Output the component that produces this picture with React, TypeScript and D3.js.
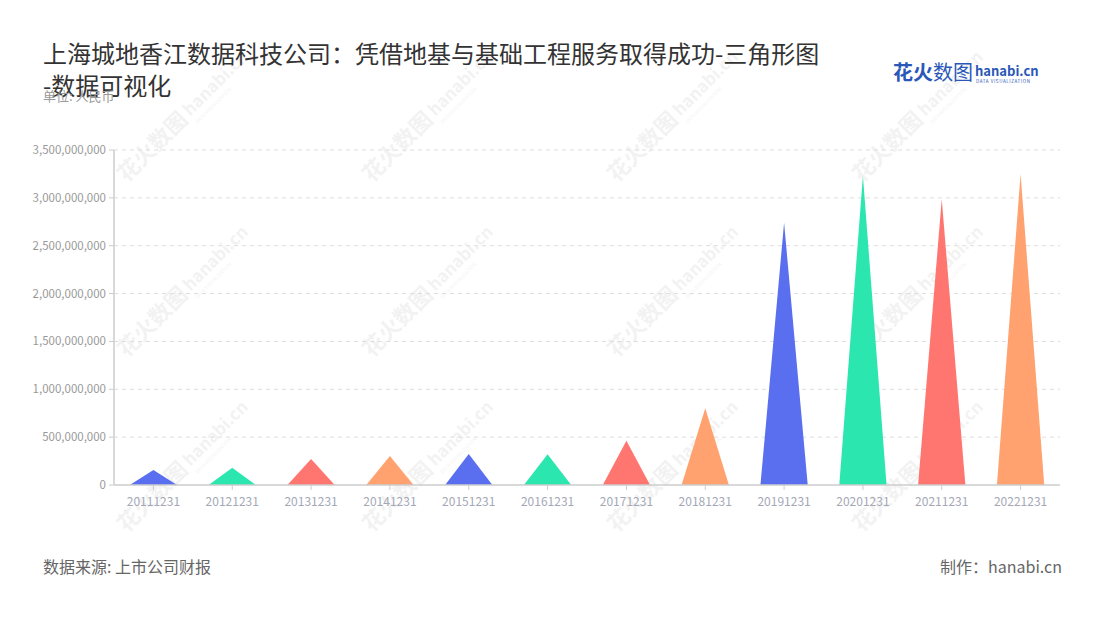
import React from "react";
import * as d3 from "d3";

const categories = ["20111231","20121231","20131231","20141231","20151231","20161231","20171231","20181231","20191231","20201231","20211231","20221231"];
const values = [157000000,181000000,272000000,303000000,324000000,320000000,463000000,801000000,2740000000,3230000000,2985000000,3250000000];
const yTicks = [0,500000000,1000000000,1500000000,2000000000,2500000000,3000000000,3500000000];
const palette = ["#596FEF","#2CE6B0","#FF7570","#FFA26F"];

const W = 1100, H = 620;
const left = 114, right = 1060, top = 150, bottom = 485;
const FONT = "'Noto Sans CJK SC', 'Noto Sans', sans-serif";

export default function App() {
  const x = d3.scaleBand<string>().domain(categories).range([left, right]);
  const y = d3.scaleLinear().domain([0, 3500000000]).range([bottom, top]);
  const fmt = d3.format(",");
  const bw = x.bandwidth() * 0.6;

  const wmCols = [155, 400, 645, 890];
  const wmRows = [155, 330, 505];

  return (
    <svg width={W} height={H} style={{ position: "absolute", left: 0, top: 0, fontFamily: FONT }}>
      <rect width={W} height={H} fill="#fff" />
      {/* watermarks */}
      {wmRows.map((ry, ri) =>
        wmCols.map((cx, ci) => (
          <g key={`wm${ri}${ci}`} transform={`translate(${cx},${ry}) rotate(-45)`} opacity={0.06}>
            <text x={-40} y={0} fontSize={22} fontWeight={700} fill="#333">花火数图</text>
            <text x={52} y={-2} fontSize={17} fontWeight={700} fill="#333">hanabi.cn</text>
            <text x={52} y={8} fontSize={5} fill="#333">DATA VISUALIZATION</text>
          </g>
        ))
      )}
      {/* title */}
      <text x={43} y={63} fontSize={24} fill="#333">上海城地香江数据科技公司：凭借地基与基础工程服务取得成功-三角形图</text>
      <text x={43} y={95} fontSize={24} fill="#333">-数据可视化</text>
      <text x={43} y={101} fontSize={13} fill="#999">单位: 人民币</text>
      {/* logo */}
      <text x={893} y={80} fontSize={20} fontWeight={700} fill="#2A57B8">花火</text>
      <text x={933} y={80} fontSize={20} fill="#2A57B8">数图</text>
      <text x={975} y={76} fontSize={13} fontWeight={700} fill="#2A57B8">hanabi.cn</text>
      <text x={976} y={83} fontSize={4.5} fill="#2A57B8" letterSpacing={0.6}>DATA VISUALIZATION</text>
      {/* grid */}
      {yTicks.map((t) => (
        <g key={t}>
          {t > 0 && (
            <line x1={left} x2={right} y1={y(t)} y2={y(t)} stroke="#ddd" strokeDasharray="4,4" />
          )}
          <line x1={left - 5} x2={left} y1={y(t)} y2={y(t)} stroke="#ccc" />
          <text x={left - 8} y={y(t) + 4} textAnchor="end" fontSize={11.5} fill="#999">{fmt(t)}</text>
        </g>
      ))}
      {/* triangles */}
      {categories.map((c, i) => {
        const cx = (x(c) as number) + x.bandwidth() / 2;
        const p = d3.path();
        p.moveTo(cx - bw / 2, y(0));
        p.lineTo(cx, y(values[i]));
        p.lineTo(cx + bw / 2, y(0));
        p.closePath();
        return <path key={c} d={p.toString()} fill={palette[i % 4]} />;
      })}
      {/* axes */}
      <line x1={left} x2={left} y1={top} y2={bottom} stroke="#ccc" strokeWidth={1.5} />
      <line x1={left} x2={right} y1={bottom} y2={bottom} stroke="#ccc" strokeWidth={1.5} />
      {categories.map((c) => {
        const cx = (x(c) as number) + x.bandwidth() / 2;
        return (
          <g key={c}>
            <line x1={cx} x2={cx} y1={bottom} y2={bottom + 5} stroke="#ccc" />
            <text x={cx} y={bottom + 21} textAnchor="middle" fontSize={12} fill="#A4A8B6">{c}</text>
          </g>
        );
      })}
      {/* footer */}
      <text x={43} y={573} fontSize={16} fill="#666">数据来源: 上市公司财报</text>
      <text x={1062} y={573} fontSize={16} fill="#666" textAnchor="end">制作：hanabi.cn</text>
    </svg>
  );
}
